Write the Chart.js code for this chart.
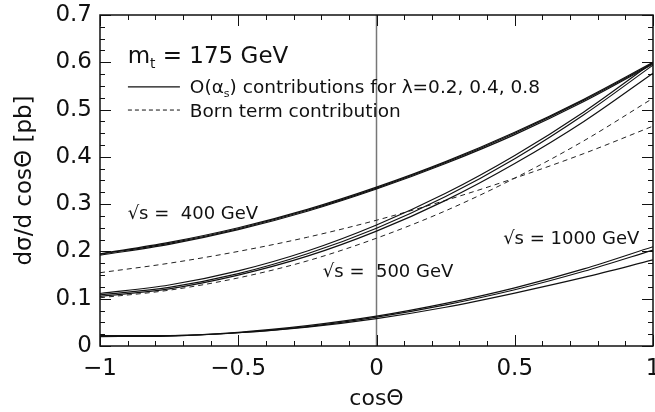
<!DOCTYPE html>
<html>
<head>
<meta charset="utf-8">
<script src="https://cdn.jsdelivr.net/npm/chart.js@4.4.1/dist/chart.umd.min.js"></script>
<style>
  html, body { margin: 0; padding: 0; background: #fff; }
  canvas { display: block; }
</style>
</head>
<body>
<canvas id="chart" width="655" height="412"></canvas>
<script>
// cos(theta) sample points
const cosTheta = [-1, -0.75, -0.5, -0.25, 0, 0.25, 0.5, 0.75, 1];

// O(alpha_s) curves, sqrt(s) = 400 GeV (lambda = 0.2, 0.4, 0.8)
const s400a = [0.195, 0.219, 0.250, 0.289, 0.336, 0.390, 0.452, 0.522, 0.600];
const s400b = [0.194, 0.217, 0.248, 0.287, 0.334, 0.388, 0.450, 0.520, 0.598];
const s400c = [0.192, 0.215, 0.246, 0.285, 0.332, 0.386, 0.447, 0.517, 0.596];

// sqrt(s) = 500 GeV
const s500a = [0.111, 0.129, 0.159, 0.201, 0.256, 0.323, 0.403, 0.495, 0.600];
const s500b = [0.108, 0.124, 0.153, 0.195, 0.249, 0.316, 0.396, 0.489, 0.594];
const s500c = [0.105, 0.121, 0.150, 0.190, 0.243, 0.308, 0.386, 0.475, 0.577];

// sqrt(s) = 1000 GeV
const s1000a = [0.022, 0.022, 0.029, 0.043, 0.063, 0.090, 0.123, 0.163, 0.210];
const s1000b = [0.021, 0.022, 0.028, 0.041, 0.061, 0.087, 0.119, 0.158, 0.203];
const s1000c = [0.020, 0.021, 0.028, 0.040, 0.058, 0.082, 0.112, 0.145, 0.182];

// Born term
const born400 = [0.155, 0.175, 0.200, 0.230, 0.266, 0.308, 0.355, 0.407, 0.465];
const born500 = [0.102, 0.118, 0.144, 0.180, 0.228, 0.286, 0.355, 0.434, 0.524];

const FONT = '"DejaVu Sans", sans-serif';

function pts(arr) {
    return arr.map(function (y, i) { return { x: cosTheta[i], y: y }; });
}

function solid(label, arr) {
    return { label: label, data: pts(arr), borderColor: '#111', borderWidth: 1.2,
             pointRadius: 0, cubicInterpolationMode: 'monotone', fill: false };
}

function dashed(label, arr) {
    return { label: label, data: pts(arr), borderColor: '#222', borderWidth: 1,
             borderDash: [5, 4], pointRadius: 0, cubicInterpolationMode: 'monotone', fill: false };
}

// text made of runs, some of them subscripts
function drawRuns(ctx, x, y, size, runs) {
    runs.forEach(function (r) {
        const fs = r.sub ? size * 0.6 : size;
        ctx.font = fs + 'px ' + FONT;
        ctx.fillText(r.t, x, y + (r.sub ? size * 0.22 : 0));
        x += ctx.measureText(r.t).width;
    });
}

function noPad(scale) {
    scale.paddingLeft = 0;
    scale.paddingRight = 0;
    scale.paddingTop = 0;
    scale.paddingBottom = 0;
}

const decorations = {
    id: 'decorations',
    beforeDatasetsDraw(chart) {
        const ctx = chart.ctx;
        const xs = chart.scales.x;
        const a = chart.chartArea;
        const x0 = xs.getPixelForValue(0);
        ctx.save();
        ctx.strokeStyle = '#777';
        ctx.lineWidth = 1.5;
        ctx.beginPath();
        ctx.moveTo(x0, a.top);
        ctx.lineTo(x0, a.bottom);
        ctx.stroke();
        ctx.restore();
    },
    afterDatasetsDraw(chart) {
        const ctx = chart.ctx;
        const xs = chart.scales.x;
        const ys = chart.scales.y;
        const a = chart.chartArea;
        ctx.save();
        ctx.strokeStyle = '#111';
        ctx.lineWidth = 1.5;
        ctx.strokeRect(a.left, a.top, a.right - a.left, a.bottom - a.top);

        ctx.lineWidth = 1;
        ctx.beginPath();
        for (let i = 0; i <= 28; i++) {
            const py = Math.round(ys.getPixelForValue(i * 0.025)) + 0.5;
            const len = i % 4 === 0 ? 11 : 5;
            ctx.moveTo(a.left, py); ctx.lineTo(a.left + len, py);
            ctx.moveTo(a.right, py); ctx.lineTo(a.right - len, py);
        }
        for (let i = 0; i <= 20; i++) {
            const px = Math.round(xs.getPixelForValue(-1 + i * 0.1)) + 0.5;
            const len = i % 5 === 0 ? 11 : 5;
            ctx.moveTo(px, a.bottom); ctx.lineTo(px, a.bottom - len);
            ctx.moveTo(px, a.top); ctx.lineTo(px, a.top + len);
        }
        ctx.stroke();

        // key and labels
        ctx.fillStyle = '#111';
        ctx.textBaseline = 'alphabetic';
        drawRuns(ctx, xs.getPixelForValue(-0.9), ys.getPixelForValue(0.599), 23,
            [{ t: 'm' }, { t: 't', sub: true }, { t: ' = 175 GeV' }]);

        const kx0 = xs.getPixelForValue(-0.899);
        const kx1 = xs.getPixelForValue(-0.711);
        const ky1 = ys.getPixelForValue(0.548);
        const ky2 = ys.getPixelForValue(0.499);
        ctx.lineWidth = 1.2;
        ctx.beginPath();
        ctx.moveTo(kx0, ky1); ctx.lineTo(kx1, ky1);
        ctx.stroke();
        ctx.lineWidth = 1;
        ctx.setLineDash([4, 3]);
        ctx.beginPath();
        ctx.moveTo(kx0, ky2); ctx.lineTo(kx1, ky2);
        ctx.stroke();
        ctx.setLineDash([]);

        const tx = xs.getPixelForValue(-0.675);
        drawRuns(ctx, tx, ky1 + 6.5, 18.5,
            [{ t: 'O(\u03b1' }, { t: 's', sub: true }, { t: ') contributions for \u03bb=0.2, 0.4, 0.8' }]);
        drawRuns(ctx, tx, ky2 + 6.5, 18.5, [{ t: 'Born term contribution' }]);

        drawRuns(ctx, xs.getPixelForValue(-0.9), ys.getPixelForValue(0.283) + 6.5, 18,
            [{ t: '\u221as =  400 GeV' }]);
        drawRuns(ctx, xs.getPixelForValue(-0.194), ys.getPixelForValue(0.160) + 6.5, 18,
            [{ t: '\u221as =  500 GeV' }]);
        drawRuns(ctx, xs.getPixelForValue(0.458), ys.getPixelForValue(0.230) + 6.5, 18,
            [{ t: '\u221as = 1000 GeV' }]);
        ctx.restore();
    }
};

new Chart(document.getElementById('chart'), {
    type: 'line',
    data: {
        datasets: [
            solid('400 GeV, \u03bb=0.2', s400a),
            solid('400 GeV, \u03bb=0.4', s400b),
            solid('400 GeV, \u03bb=0.8', s400c),
            solid('500 GeV, \u03bb=0.2', s500a),
            solid('500 GeV, \u03bb=0.4', s500b),
            solid('500 GeV, \u03bb=0.8', s500c),
            solid('1000 GeV, \u03bb=0.2', s1000a),
            solid('1000 GeV, \u03bb=0.4', s1000b),
            solid('1000 GeV, \u03bb=0.8', s1000c),
            dashed('Born 400 GeV', born400),
            dashed('Born 500 GeV', born500)
        ]
    },
    options: {
        responsive: false,
        animation: false,
        devicePixelRatio: 1,
        layout: { autoPadding: false, padding: { top: 15, right: 2, left: 0, bottom: 0 } },
        plugins: { legend: { display: false }, tooltip: { enabled: false } },
        scales: {
            x: {
                type: 'linear',
                min: -1,
                max: 1,
                grid: { display: false, drawTicks: false },
                border: { display: false },
                afterFit: function (scale) { scale.height = 66; noPad(scale); },
                ticks: {
                    stepSize: 0.5,
                    autoSkip: false,
                    maxRotation: 0,
                    padding: 9,
                    color: '#111',
                    font: { family: FONT, size: 23 },
                    callback: function (v) { return v === 0 ? '0' : String(v).replace('-', '\u2212'); }
                },
                title: {
                    display: true,
                    text: 'cos\u0398',
                    color: '#111',
                    font: { family: FONT, size: 22, lineHeight: 1.2 },
                    padding: 0
                }
            },
            y: {
                min: 0,
                max: 0.7,
                grid: { display: false, drawTicks: false },
                border: { display: false },
                afterFit: function (scale) { scale.width = 100; noPad(scale); },
                ticks: {
                    stepSize: 0.1,
                    padding: 8,
                    color: '#111',
                    font: { family: FONT, size: 23 },
                    callback: function (v) { return v === 0 ? '0' : v.toFixed(1); }
                },
                title: {
                    display: true,
                    text: 'd\u03c3/d cos\u0398 [pb]',
                    color: '#111',
                    font: { family: FONT, size: 23, lineHeight: 1.2 },
                    padding: { top: 11, bottom: 0 }
                }
            }
        }
    },
    plugins: [decorations]
});
</script>
</body>
</html>
